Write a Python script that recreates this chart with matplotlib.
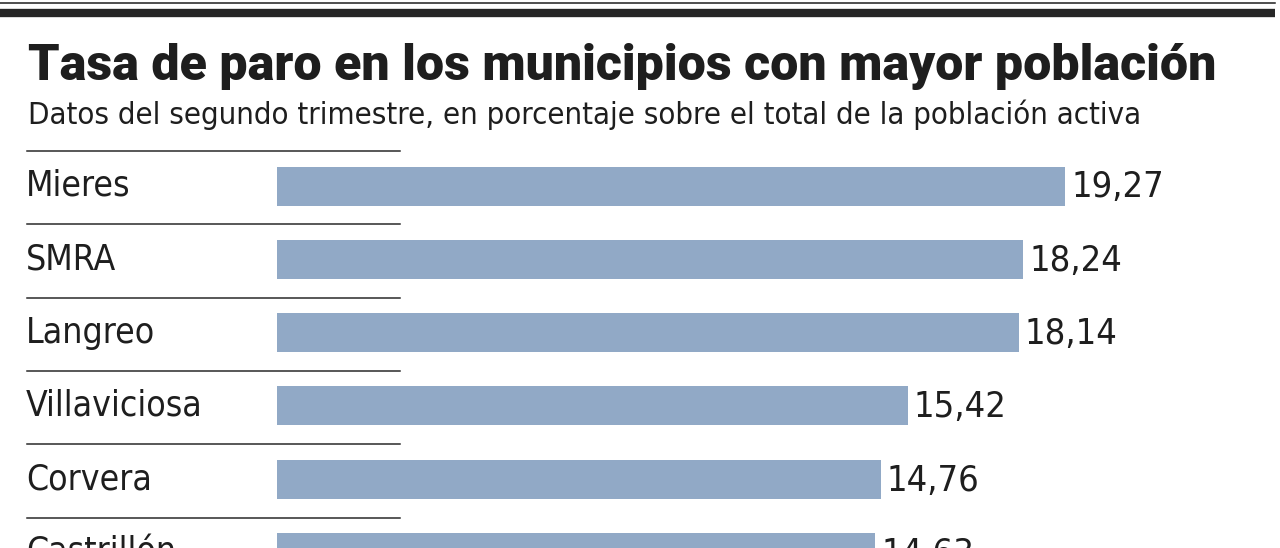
import matplotlib
matplotlib.use("Agg")
import matplotlib.pyplot as plt
from matplotlib.lines import Line2D

# data
municipios = ["Mieres", "SMRA", "Langreo", "Villaviciosa", "Corvera", "Castrillón"]
tasas = [19.27, 18.24, 18.14, 15.42, 14.76, 14.63]
etiquetas = ["19,27", "18,24", "18,14", "15,42", "14,76", "14,63"]

titulo = "Tasa de paro en los municipios con mayor población"
subtitulo = "Datos del segundo trimestre, en porcentaje sobre el total de la población activa"

W, H = 1280, 548
BAR = "#91a9c6"
INK = "#1e1e1e"

fig = plt.figure(figsize=(W / 100, H / 100), dpi=100)
fig.patch.set_facecolor("white")

# pixel layout of the rows
x0_px = 277          # where the bars start
px_per_unit = 40.9   # horizontal scale
row0_px = 186        # centre of first bar
pitch = 73.3         # distance between rows

ax = fig.add_axes([0, 0, 1, 1])
ax.set_xlim(-x0_px / px_per_unit, (W - x0_px) / px_per_unit)
ax.set_ylim((H - row0_px) / pitch, -row0_px / pitch)
ax.axis("off")

ys = list(range(len(municipios)))
ax.barh(ys, tasas, height=39 / pitch, left=0, color=BAR)

cond = dict(family=["DejaVu Sans"], fontstretch="condensed")

for i, (name, v, t) in enumerate(zip(municipios, tasas, etiquetas)):
    ax.axhline(i - 35 / pitch, xmin=27 / W, xmax=400 / W, color="#2a2a2a", lw=1.1)
    ax.text(26 / W, i, name, transform=ax.get_yaxis_transform(), ha="left",
            va="center", fontsize=25.5, color=INK, **cond)
    ax.text(v + 6 / px_per_unit, i + 0.02, t, ha="left", va="center",
            fontsize=26, color=INK, **cond)

# top rules
fig.add_artist(Line2D([0, 1275 / W], [1 - 2.5 / H] * 2, transform=fig.transFigure,
                      color=INK, lw=1.1))
fig.add_artist(Line2D([0, 1275 / W], [1 - 13 / H] * 2, transform=fig.transFigure,
                      color="#262626", lw=6.0, solid_capstyle="butt"))

# titles, scaled to the reference widths
t1 = fig.text(28 / W, 1 - 80 / H, titulo, ha="left", va="baseline",
              fontsize=40, fontweight="black", family=["Roboto", "DejaVu Sans"],
              color=INK)
t2 = fig.text(28 / W, 1 - 124 / H, subtitulo, ha="left", va="baseline",
              fontsize=22, color=INK, **cond)

fig.canvas.draw()
r = fig.canvas.get_renderer()
for t, target in ((t1, 1190), (t2, 1114)):
    w = t.get_window_extent(r).width
    t.set_fontsize(t.get_fontsize() * target / w)

fig.savefig("out.png", dpi=100, facecolor="white")
